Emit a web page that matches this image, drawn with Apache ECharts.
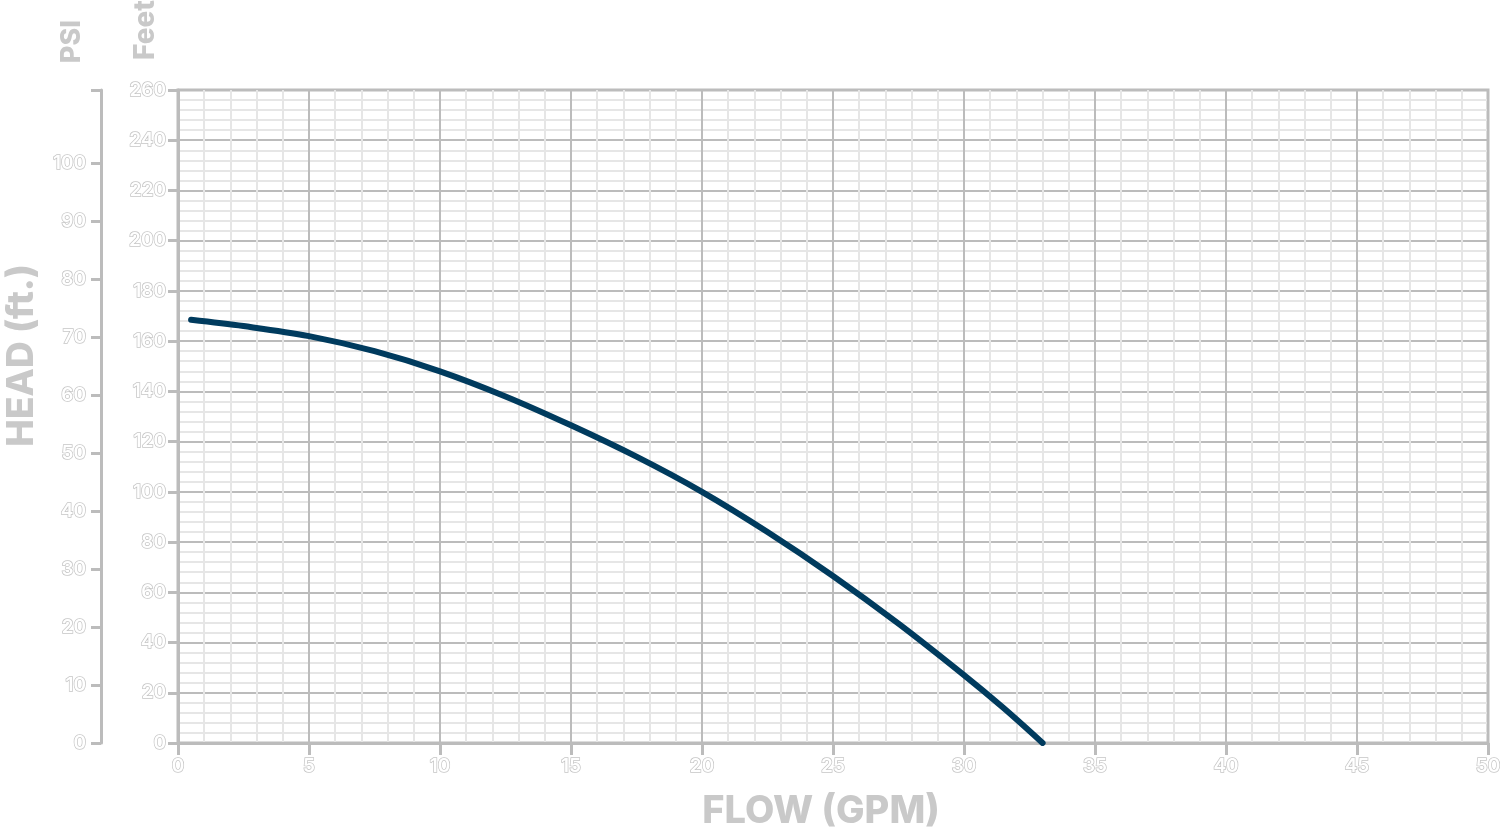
<!DOCTYPE html>
<html>
<head>
<meta charset="utf-8">
<title>Pump curve</title>
<script src="https://cdn.jsdelivr.net/npm/echarts@6/dist/echarts.min.js"></script>
<style>
  html, body { margin: 0; padding: 0; background: #fff; }
  #chart { width: 1500px; height: 833px; }
</style>
</head>
<body>
<div id="chart"></div>
<script>
// flow (GPM) vs head (ft)
const flowGpm = [0.5, 2.5, 5, 7.5, 10, 12.5, 15, 17.5, 20, 22.5, 25, 27.5, 30, 31.5, 33];
const headFt = [168.5, 166, 162, 156, 148, 138, 126.5, 114, 100, 84, 66.5, 47.5, 27, 14, 0];

// axis ranges / tick values
const feetMax = 260;
const ftPerPsi = 2.31;
const psiLabels = [0, 10, 20, 30, 40, 50, 60, 70, 80, 90, 100];

const gray = "#bcbcbc";
const lightGray = "#e6e6e6";
const textGray = "#c9c9c9";
const font = "Inter, 'Open Sans', sans-serif";

const psiMax = feetMax / ftPerPsi;

const outlinedLabel = {
  color: "#ffffff",
  textBorderColor: "#c6c6c6",
  textBorderWidth: 1.5,
  fontSize: 19,
  fontFamily: font,
  fontWeight: 600,
};

const chart = echarts.init(document.getElementById("chart"), null, { renderer: "canvas" });

const option = {
  backgroundColor: "#ffffff",
  animation: false,
  grid: {
    left: 178,
    right: 12,
    top: 90,
    bottom: 90,
    show: true,
    borderColor: gray,
    borderWidth: 3,
    containLabel: false,
    outerBoundsMode: "none", // keep the plot box fixed, labels may run to the edge
  },
  xAxis: {
    type: "value",
    min: 0,
    max: 50,
    interval: 5,
    name: "FLOW (GPM)",
    nameLocation: "middle",
    nameGap: 50,
    nameTextStyle: {
      color: textGray,
      fontSize: 38,
      fontWeight: 800,
      fontFamily: font,
      padding: [0, 24, 0, 0],
    },
    axisLine: { show: true, lineStyle: { color: gray, width: 3 } },
    axisTick: { show: true, length: 12, lineStyle: { color: gray, width: 3 } },
    axisLabel: Object.assign({ margin: 14 }, outlinedLabel),
    splitLine: { show: true, lineStyle: { color: gray, width: 2 } },
    minorTick: { show: false, splitNumber: 5 },
    minorSplitLine: { show: true, lineStyle: { color: lightGray, width: 2 } },
  },
  yAxis: [
    {
      type: "value",
      min: 0,
      max: feetMax,
      interval: 20,
      position: "left",
      axisLine: { show: true, lineStyle: { color: gray, width: 3 } },
      axisTick: { show: true, length: 10, lineStyle: { color: gray, width: 3 } },
      axisLabel: Object.assign({ margin: 12 }, outlinedLabel),
      splitLine: { show: true, lineStyle: { color: gray, width: 2 } },
      minorTick: { show: false, splitNumber: 5 },
      minorSplitLine: { show: true, lineStyle: { color: lightGray, width: 2 } },
    },
    {
      type: "value",
      min: 0,
      max: psiMax,
      position: "left",
      offset: 77,
      axisLine: { show: true, lineStyle: { color: gray, width: 3 } },
      axisTick: {
        show: true,
        length: 10,
        customValues: psiLabels.concat([psiMax]),
        lineStyle: { color: gray, width: 3 },
      },
      axisLabel: Object.assign({ margin: 15, customValues: psiLabels }, outlinedLabel),
      splitLine: { show: false },
    },
  ],
  graphic: [
    {
      type: "text",
      left: 58,
      top: 20,
      rotation: Math.PI / 2,
      style: { text: "PSI", fill: textGray, font: "800 27px " + font },
    },
    {
      type: "text",
      left: 132,
      top: 0,
      rotation: Math.PI / 2,
      style: { text: "Feet", fill: textGray, font: "800 28px " + font },
    },
    {
      type: "text",
      left: 3,
      top: 264,
      rotation: Math.PI / 2,
      style: { text: "HEAD (ft.)", fill: textGray, font: "800 37px " + font },
    },
  ],
  series: [
    {
      type: "line",
      yAxisIndex: 0,
      data: flowGpm.map((f, i) => [f, headFt[i]]),
      smooth: 0.35,
      showSymbol: false,
      z: 10,
      lineStyle: { color: "#003b5e", width: 6, cap: "round" },
    },
  ],
};

chart.setOption(option);
</script>
</body>
</html>
